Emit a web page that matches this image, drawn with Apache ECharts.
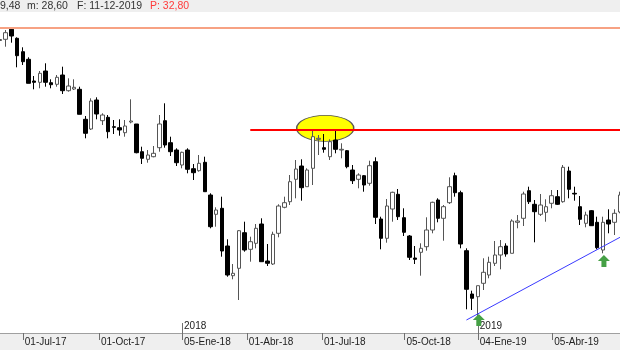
<!DOCTYPE html>
<html><head><meta charset="utf-8">
<script src="https://cdn.jsdelivr.net/npm/echarts@6/dist/echarts.min.js"></script>
<style>html,body{margin:0;padding:0;background:#fff}#c{width:620px;height:350px}</style>
</head><body><div id="c"></div>
<script>
// Weekly candles (Friday of each week)
const categories = [
'2017-05-26','2017-06-02','2017-06-09','2017-06-16','2017-06-23','2017-06-30','2017-07-07','2017-07-14','2017-07-21','2017-07-28',
'2017-08-04','2017-08-11','2017-08-18','2017-08-25','2017-09-01','2017-09-08','2017-09-15','2017-09-22','2017-09-29','2017-10-06',
'2017-10-13','2017-10-20','2017-10-27','2017-11-03','2017-11-10','2017-11-17','2017-11-24','2017-12-01','2017-12-08','2017-12-15',
'2017-12-22','2017-12-29','2018-01-05','2018-01-12','2018-01-19','2018-01-26','2018-02-02','2018-02-09','2018-02-16','2018-02-23',
'2018-03-02','2018-03-09','2018-03-16','2018-03-23','2018-03-30','2018-04-06','2018-04-13','2018-04-20','2018-04-27','2018-05-04',
'2018-05-11','2018-05-18','2018-05-25','2018-06-01','2018-06-08','2018-06-15','2018-06-22','2018-06-29','2018-07-06','2018-07-13',
'2018-07-20','2018-07-27','2018-08-03','2018-08-10','2018-08-17','2018-08-24','2018-08-31','2018-09-07','2018-09-14','2018-09-21',
'2018-09-28','2018-10-05','2018-10-12','2018-10-19','2018-10-26','2018-11-02','2018-11-09','2018-11-16','2018-11-23','2018-11-30',
'2018-12-07','2018-12-14','2018-12-21','2018-12-28','2019-01-04','2019-01-11','2019-01-18','2019-01-25','2019-02-01','2019-02-08',
'2019-02-15','2019-02-22','2019-03-01','2019-03-08','2019-03-15','2019-03-22','2019-03-29','2019-04-05','2019-04-12','2019-04-19',
'2019-04-26','2019-05-03','2019-05-10','2019-05-17','2019-05-24','2019-05-31','2019-06-07','2019-06-14','2019-06-21','2019-06-28'
];
// [open, close, low, high]
const ohlc = [
[35.95,36.05,35.8,36.2],[36.07,36.73,35.33,37.0],[37.07,36.4,35.73,37.2],[36.17,34.43,33.27,36.27],[34.83,33.83,33.5,35.27],
[34.07,31.67,31.67,34.27],[31.9,31.77,31.07,32.4],[31.77,32.67,31.17,32.9],[32.9,31.77,31.33,33.67],[31.73,31.53,31.17,32.07],
[31.57,32.27,31.33,32.5],[32.5,30.93,30.6,33.33],[30.93,31.4,30.83,32.17],[31.1,31.27,31.0,32.07],[31.07,28.57,28.57,31.33],
[28.07,26.67,26.17,28.4],[27.1,29.9,27.0,30.17],[30.0,28.6,28.07,30.27],[27.93,28.5,27.5,28.67],[28.27,26.83,26.17,28.5],
[27.33,27.27,26.6,28.0],[27.23,27.0,26.43,28.07],[26.73,27.4,26.33,28.0],[27.8,27.9,27.67,30.07],[27.6,24.73,24.67,27.6],
[24.83,24.17,23.6,25.33],[24.07,24.5,23.73,25.0],[24.33,24.67,24.27,25.4],[25.23,27.6,24.83,28.5],[27.93,25.5,25.23,29.67],
[25.73,24.83,24.4,26.33],[25.0,23.73,23.4,25.17],[23.5,24.77,23.17,24.83],[25.0,23.07,22.67,25.17],[23.13,22.73,22.0,23.6],
[22.93,23.67,22.83,24.5],[23.77,20.83,20.83,24.33],[20.5,17.33,17.17,20.67],[18.57,19.0,17.33,19.27],[19.17,14.9,14.33,20.33],
[15.4,12.5,12.33,16.07],[12.43,12.67,12.07,13.6],[13.17,16.93,10.0,17.0],[16.73,15.0,14.83,17.83],[15.07,15.83,13.83,16.33],
[15.67,17.17,15.17,17.6],[17.6,13.83,13.83,18.17],[13.9,13.67,13.4,15.6],[13.6,16.57,13.5,16.83],[16.67,19.4,16.27,19.57],
[19.27,19.73,19.17,20.33],[19.83,21.83,19.5,22.5],[22.07,23.1,20.17,24.0],[23.4,21.23,19.93,24.07],[21.33,23.0,21.33,23.17],
[23.17,26.33,21.5,26.93],[26.07,26.17,24.5,26.5],[25.23,25.07,24.73,26.6],[24.33,25.83,24.0,26.07],[26.0,25.07,24.67,27.0],
[25.0,25.07,24.17,25.67],[24.93,23.33,23.17,25.0],[23.0,21.93,21.6,23.5],[22.07,22.5,21.17,22.67],[22.43,21.5,20.83,22.5],
[21.67,23.43,21.43,23.93],[23.83,18.27,17.6,24.27],[18.1,16.17,15.07,18.33],[16.17,19.4,15.73,20.1],[19.1,20.77,17.83,20.83],
[20.57,18.33,18.0,21.1],[18.23,16.77,16.4,19.17],[16.4,14.27,14.0,16.5],[14.2,14.07,13.6,15.4],[14.77,15.17,12.43,15.67],
[15.33,17.0,14.93,18.27],[17.0,19.77,16.67,19.83],[20.0,18.17,17.77,20.17],[18.17,19.33,15.93,19.5],[19.73,21.33,19.6,22.27],
[22.43,20.73,20.33,22.73],[20.73,15.6,15.17,20.93],[14.93,11.07,9.07,15.17],[10.6,10.17,9.0,10.93],[10.33,11.43,8.33,11.43],
[11.67,12.77,11.0,14.17],[12.5,13.77,12.17,14.33],[13.67,14.5,13.4,15.9],[14.5,15.33,13.07,16.0],[15.4,14.6,14.33,15.67],
[14.67,17.9,14.67,18.07],[17.77,17.9,17.17,18.5],[18.17,20.6,17.4,20.83],[20.93,19.83,19.6,21.33],[19.57,18.83,15.77,20.0],
[18.57,19.5,18.4,20.6],[18.77,19.33,17.83,20.07],[19.67,20.43,19.17,21.0],[20.33,19.57,19.5,21.0],[19.83,23.27,19.73,23.5],
[22.9,21.07,20.17,23.33],[20.67,20.6,19.93,21.33],[19.33,18.07,17.5,20.4],[17.67,18.5,17.27,18.83],[18.93,17.43,17.4,19.0],
[17.77,15.23,15.07,18.33],[15.0,17.77,14.67,18.33],[18.0,17.6,16.67,19.07],[17.77,18.67,16.5,19.07],[18.8,20.5,18.67,20.83]
];
// axis labels (positions in week-index units)
const monthTickPos = [4, 17.4, 32, 43.4, 56.6, 71.1, 84, 97.1];
const monthTickLabels = ['01-Jul-17','01-Oct-17','05-Ene-18','01-Abr-18','01-Jul-18','05-Oct-18','04-Ene-19','05-Abr-19'];
const yearTickPos = [32, 84];
const yearTickLabels = ['2018','2019'];
// header info
const headerParts = ['9,48', 'm: 28,60', 'F: 11-12-2019', 'P: 32,80'];
// annotations (data coordinates: [week index, price])
const topLevel = 37.23;
const resistance = [[44, 27.0], [109, 27.0]];
const trendLine = [[82, 8.0], [109, 16.27]];
const highlight = [[57, 27.17]];
const arrowsUp = [[84, 8.0], [106, 13.9]];

const FONT = '"Liberation Sans", Arial, sans-serif';
const chart = echarts.init(document.getElementById('c'), null, {renderer: 'canvas'});
const headerX = [0, 27, 77, 150];
chart.setOption({
  animation: false,
  backgroundColor: '#efefef',
  grid: {left: 0, right: 0, top: 12, bottom: 17, show: true, backgroundColor: '#ffffff', borderWidth: 0},
  graphic: headerParts.map((t, i) => ({
    type: 'text', x: headerX[i], y: 6,
    style: {text: t, font: '10.5px ' + FONT, fill: i === 3 ? '#ff3b3b' : '#333333', verticalAlign: 'middle'}
  })),
  xAxis: [
    {type: 'category', data: categories, boundaryGap: false, position: 'bottom',
     axisLine: {show: false}, axisTick: {show: false}, axisLabel: {show: false}, splitLine: {show: false}},
    {type: 'value', min: 0, max: categories.length - 1, position: 'bottom',
     axisLine: {show: true, onZero: false, lineStyle: {color: '#a0a0a0', width: 1}},
     axisTick: {show: true, length: 7, customValues: monthTickPos, lineStyle: {color: '#707070'}},
     axisLabel: {show: true, customValues: monthTickPos, align: 'left', margin: 4, padding: [0, 0, 0, 2],
       color: '#222', fontFamily: FONT, fontSize: 10,
       formatter: v => monthTickLabels[monthTickPos.indexOf(v)] || ''},
     splitLine: {show: false}},
    {type: 'value', min: 0, max: categories.length - 1, position: 'bottom',
     axisLine: {show: false, onZero: false},
     axisTick: {show: true, inside: true, length: 10, customValues: yearTickPos, lineStyle: {color: '#707070'}},
     axisLabel: {show: true, inside: true, customValues: yearTickPos, align: 'left', margin: 2, padding: [0, 0, 0, 2],
       color: '#222', fontFamily: FONT, fontSize: 10,
       formatter: v => yearTickLabels[yearTickPos.indexOf(v)] || ''},
     splitLine: {show: false}}
  ],
  yAxis: {type: 'value', min: 6.7, max: 38.8, show: false, splitLine: {show: false}},
  series: [
    {type: 'scatter', xAxisIndex: 0, z: 1, silent: true, data: highlight,
     symbol: 'circle', symbolSize: [57, 26], symbolOffset: [1, 0],
     itemStyle: {color: '#ffff00', borderColor: '#555', borderWidth: 1, opacity: 1}},
    {type: 'candlestick', xAxisIndex: 0, z: 3, data: ohlc, barWidth: 4,
     itemStyle: {color: '#ffffff', color0: '#000000', borderColor: '#555555', borderColor0: '#000000', borderWidth: 1},
     markLine: {silent: true, symbol: ['none', 'none'], label: {show: false}, z: 5,
       data: [
         [{coord: resistance[0], lineStyle: {color: '#ff0000', width: 2, type: 'solid'}}, {coord: resistance[1]}],
         [{coord: trendLine[0], lineStyle: {color: '#3a3aff', width: 1, type: 'solid'}}, {coord: trendLine[1]}],
         {yAxis: topLevel, lineStyle: {color: '#f7a283', width: 2, type: 'solid'}}
       ]}},
    {type: 'scatter', xAxisIndex: 0, z: 6, silent: true, data: arrowsUp,
     symbol: 'path://M6 0L12 6L8.5 6L8.5 12L3.5 12L3.5 6L0 6Z', symbolSize: [12, 12], symbolOffset: [1, 0],
     itemStyle: {color: '#45a045', opacity: 1}}
  ]
});
</script></body></html>
